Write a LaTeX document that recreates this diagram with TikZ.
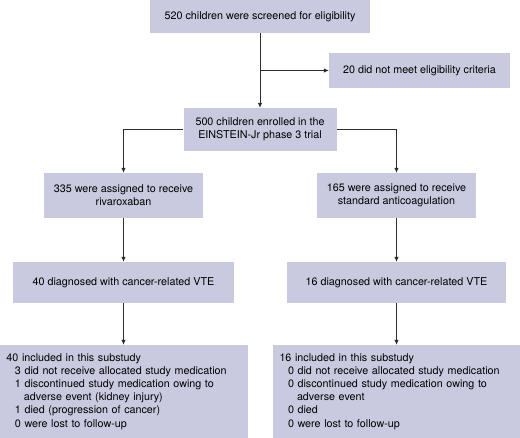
\documentclass[tikz,border=0pt]{standalone}
\usepackage{fontspec}
\setmainfont{TeX Gyre Heros}
\usetikzlibrary{arrows.meta}
\begin{document}
\begin{tikzpicture}[x=1bp, y=-1bp,
    box/.style={fill=boxfill, inner sep=0pt, align=center, font=\fontsize{10.8}{13.2}\selectfont},
    listbox/.style={box, minimum width=248bp, minimum height=93bp, text width=234bp, align=left},
    arr/.style={-{Latex[length=5bp,width=4.5bp]}, draw=linegray, line width=0.8bp}]

    % Define colors
    \definecolor{boxfill}{RGB}{201,202,223}
    \definecolor{linegray}{RGB}{45,45,45}

    % Fix the page size
    \useasboundingbox (0,0) rectangle (520,438);

    % Screening and enrolment
    \node[box, minimum width=220bp, minimum height=33bp] (screen) at (260,16.5) {520 children were screened for eligibility};
    \node[box, minimum width=181bp, minimum height=35bp] (excl) at (419.5,70.5) {20 did not meet eligibility criteria};
    \node[box, minimum width=153bp, minimum height=43bp] (enrol) at (260,129.5) {500 children enrolled in the\\EINSTEIN-Jr phase 3 trial};

    % Two arms
    \node[box, minimum width=159bp, minimum height=45bp] (riva) at (123.5,195.5) {335 were assigned to receive\\rivaroxaban};
    \node[box, minimum width=159bp, minimum height=45bp] (std) at (396.5,195.5) {165 were assigned to receive\\standard anticoagulation};
    \node[box, minimum width=220bp, minimum height=41bp] (vteL) at (123.5,282.5) {40 diagnosed with cancer-related VTE};
    \node[box, minimum width=219bp, minimum height=41bp] (vteR) at (396.5,282.5) {16 diagnosed with cancer-related VTE};

    % Substudy boxes
    \node[listbox] (inclL) at (123.5,391.5) {40 included in this substudy\\
        \hspace*{8.5bp}3 did not receive allocated study medication\\
        \hspace*{8.5bp}1 discontinued study medication owing to\\
        \hspace*{17.5bp}adverse event (kidney injury)\\
        \hspace*{8.5bp}1 died (progression of cancer)\\
        \hspace*{8.5bp}0 were lost to follow-up};
    \node[listbox] (inclR) at (396.5,391.5) {16 included in this substudy\\
        \hspace*{8.5bp}0 did not receive allocated study medication\\
        \hspace*{8.5bp}0 discontinued study medication owing to\\
        \hspace*{17.5bp}adverse event\\
        \hspace*{8.5bp}0 died\\
        \hspace*{8.5bp}0 were lost to follow-up};

    % Connectors
    \draw[arr] (screen.south) -- (enrol.north);
    \draw[arr] (screen.south |- excl.west) -- (excl.west);
    \draw[arr] (enrol.west) -| (riva.north);
    \draw[arr] (enrol.east) -| (std.north);
    \draw[arr] (riva.south) -- (vteL.north);
    \draw[arr] (std.south) -- (vteR.north);
    \draw[arr] (vteL.south) -- (inclL.north);
    \draw[arr] (vteR.south) -- (inclR.north);

\end{tikzpicture}
\end{document}
